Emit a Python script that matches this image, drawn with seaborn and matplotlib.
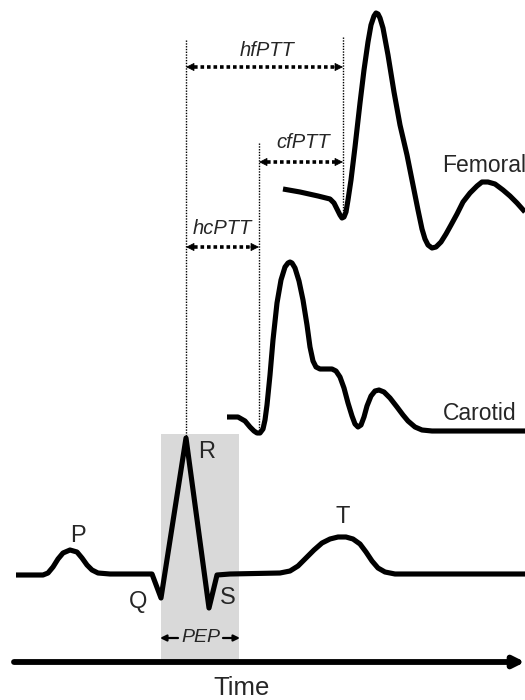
import pandas as pd
import matplotlib.pyplot as plt
import seaborn as sns

# -----------------------------------------------------------------------------
# Waveform data (in drawing units: x = time, y = down)
# -----------------------------------------------------------------------------

ecg_x = [16, 43, 48, 53, 58, 63, 70, 77, 82, 87, 92, 98, 110, 152, 161, 186, 209, 217,
         230, 280, 290, 298, 306, 314, 322, 330, 338, 346, 353, 360, 366, 372, 378,
         385, 395, 525]
ecg_y = [575, 575, 573, 567, 559, 553, 550, 552, 558, 565, 570, 573, 574, 574, 598, 438,
         608, 575, 574, 573, 571, 566, 558, 550, 543, 539, 537, 537, 539, 544, 552,
         561, 568, 572, 574, 574]

carotid_x = [227, 238, 245, 250, 254, 257, 260, 263, 265, 267, 270, 273, 277, 281, 285,
             288, 290, 292, 295, 299, 303, 307, 310, 313, 316, 320, 326, 332, 336, 340,
             344, 348, 352, 355, 358, 361, 364, 367, 371, 375, 379, 384, 390, 397, 403,
             408, 415, 422, 432, 525]
carotid_y = [417, 417, 421, 427, 431, 433, 433, 429, 420, 405, 375, 340, 303, 280, 267,
             263, 262, 263, 268, 281, 300, 325, 347, 361, 367, 369, 369, 369, 371, 377,
             388, 403, 416, 424, 427, 425, 417, 406, 396, 391, 390, 392, 398, 407, 415,
             421, 427, 430, 431, 431]

femoral_x = [283, 300, 318, 330, 334, 337, 340, 342, 344, 346, 348, 351, 355, 360, 364,
             368, 371, 374, 376, 378, 380, 383, 388, 394, 400, 407, 413, 418, 422, 425,
             428, 432, 436, 441, 446, 451, 457, 463, 470, 477, 482, 488, 495, 503, 510,
             517, 525]
femoral_y = [189, 192, 196, 199, 203, 209, 215, 218, 217, 212, 200, 180, 147, 103, 70,
             42, 25, 16, 13, 14, 18, 28, 55, 92, 125, 155, 185, 210, 229, 239, 245, 248,
             247, 242, 234, 225, 214, 202, 193, 186, 182, 182, 184, 190, 196, 203, 212]

# Time markers: R peak, carotid foot, femoral foot
t_r = 186
t_carotid = 259
t_femoral = 343

ecg_labels = ["P", "Q", "R", "S", "T"]
ptt_labels = ["hfPTT", "cfPTT", "hcPTT"]

# -----------------------------------------------------------------------------
# Plot
# -----------------------------------------------------------------------------

sns.set_theme(style="white")
plt.rcParams["font.family"] = ["Liberation Sans", "DejaVu Sans"]

fig = plt.figure(figsize=(5.25, 7), dpi=100)
ax = fig.add_axes([0, 0, 1, 1])

# PEP window
ax.fill_between([161, 239], 434, 662, color="#d9d9d9", lw=0, zorder=0)

line_kw = dict(color="black", lw=3.7, sort=False, estimator=None, ax=ax,
               solid_joinstyle="round", solid_capstyle="butt", zorder=3)
for xs, ys in [(ecg_x, ecg_y), (carotid_x, carotid_y), (femoral_x, femoral_y)]:
    df = pd.DataFrame({"x": xs, "y": ys})
    sns.lineplot(data=df, x="x", y="y", **line_kw)
ax.set_xlim(0, 525)
ax.set_ylim(700, 0)
ax.axis("off")

# Thin dotted guides
guide_kw = dict(color="black", lw=1.0, ls=(0, (1, 1)), zorder=2)
ax.plot([t_r, t_r], [40, 438], **guide_kw)
ax.plot([t_femoral, t_femoral], [37, 218], **guide_kw)
ax.plot([t_carotid, t_carotid], [143, 433], **guide_kw)


def dotted_arrow(x0, x1, y):
    ax.plot([x0 + 8, x1 - 8], [y, y], color="black", lw=2.6, ls=(0, (1, 0.8)),
            solid_capstyle="butt", dash_capstyle="butt")
    for a, b in [(x0 + 10, x0), (x1 - 10, x1)]:
        ax.annotate("", xy=(b, y), xytext=(a, y),
                    arrowprops=dict(arrowstyle="-|>", color="black", lw=0.5,
                                    mutation_scale=13, shrinkA=0, shrinkB=0))


dotted_arrow(t_r, t_femoral, 67)
dotted_arrow(t_carotid, t_femoral, 162)
dotted_arrow(t_r, t_carotid, 247)

italic_kw = dict(fontsize=14.5, fontstyle="italic", ha="center", va="center")
ax.text(267, 50, ptt_labels[0], **italic_kw)
ax.text(303, 143, ptt_labels[1], **italic_kw)
ax.text(222, 229, ptt_labels[2], **italic_kw)

# Wave labels
lab_kw = dict(fontsize=17, ha="center", va="center")
for lab, (x, y) in zip(ecg_labels, [(78, 536), (138, 602), (207, 452), (228, 598), (343, 517)]):
    ax.text(x, y, lab, **lab_kw)
ax.text(442, 165, "Femoral", fontsize=16.5, ha="left", va="center")
ax.text(443, 413, "Carotid", fontsize=16.5, ha="left", va="center")

# PEP arrows
for a, b in [(178, 160), (223, 240)]:
    ax.annotate("", xy=(b, 638), xytext=(a, 638),
                arrowprops=dict(arrowstyle="-|>", color="black", lw=1.6,
                                mutation_scale=9, shrinkA=0, shrinkB=0))
ax.text(201, 638, "PEP", fontsize=14, fontstyle="italic", ha="center", va="center")

# Time axis
ax.annotate("", xy=(525, 662), xytext=(14, 662),
            arrowprops=dict(arrowstyle="-|>", color="black", lw=4.2,
                            mutation_scale=16, shrinkA=0, shrinkB=0))
ax.text(242, 688, "Time", fontsize=18.5, ha="center", va="center")

fig.savefig("out.png", dpi=100)
